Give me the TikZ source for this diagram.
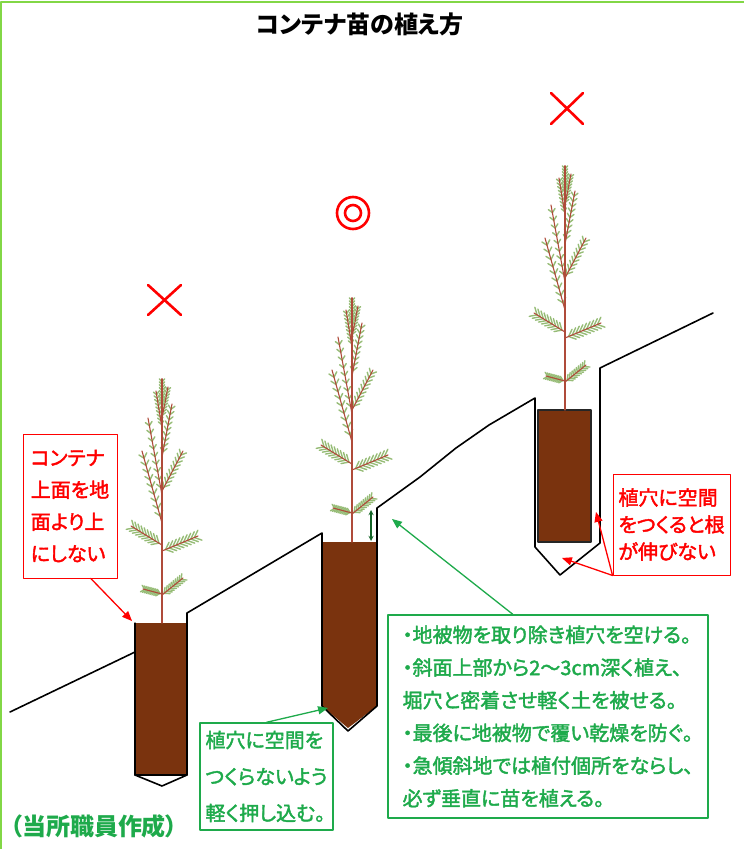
\documentclass[tikz,border=0pt]{standalone}
\usepackage{fontspec}
\setmainfont{Noto Sans CJK JP}[RawFeature=+palt]
\newfontfamily\notefont{Noto Sans CJK JP}[RawFeature=+palt,FakeBold=2]
\usetikzlibrary{arrows}
\usetikzlibrary{calc}

\definecolor{soil}{RGB}{122,51,14}
\definecolor{framegreen}{RGB}{130,215,70}
\definecolor{notegreen}{RGB}{30,170,75}
\definecolor{gapgreen}{RGB}{20,100,40}
\definecolor{twigred}{RGB}{175,75,58}
\definecolor{needlegreen}{RGB}{150,188,118}

\tikzset{
  groundline/.style={line width=1.6pt,black},
  verdict/.style={red,line width=2.6pt},
  warnbox/.style={draw=red,line width=0.9pt,text=red,align=left,inner sep=4pt},
  notebox/.style={draw=notegreen,line width=1.4pt,text=notegreen,align=left,inner sep=4pt},
  needle/.style={needlegreen,line width=1.4pt},
  twig/.style={twigred,line width=1.1pt},
  % one seedling, origin at the foot of the stem
  seedling/.pic={
    \foreach \ax/\ay/\bx/\by/\nl in {0/-29/-19/-34/5,0/-28/21/-45/6,0/-78/-31/-97/8,0/-72/36/-87/8,
        0/-100/-20/-172/6,0/-132/21/-172/6,0/-128/-14/-205/5,0/-166/10/-219/5,
        0/-195/-6/-232/4,0/-205/6/-236/4,0/-215/0/-244/4}{
      \foreach \i in {1,...,9}{
        \coordinate (p) at ($(\ax,\ay)!\i*0.1!(\bx,\by)$);
        \draw[needle] (p) -- ($(p)!\nl pt!42:(\bx,\by)$);
        \draw[needle] (p) -- ($(p)!\nl pt!-42:(\bx,\by)$);
      }
      \draw[twig] (\ax,\ay) -- (\bx,\by);
    }
    \draw[twig] (0,0) -- (0,-244);
  }
}

\begin{document}
\begin{tikzpicture}[line cap=round,line join=round,>=triangle 45,x=1pt,y=-1pt]
\useasboundingbox (0,0) rectangle (744,849);
\draw [framegreen,line width=2pt] (1,860) -- (1,2) -- (760,2);

\node[font=\fontsize{24}{24}\selectfont\bfseries] (title) at (360,24) {コンテナ苗の植え方};

% containers
\fill [soil] (135,623) rectangle (187,775);
\draw [line width=1.2pt] (135,623) -- (135,775) -- (187,775);
\fill [soil] (322,542) -- (377,542) -- (377,706) -- (348,728) -- (322,706) -- cycle;
\filldraw [fill=soil,draw=black!85,line width=1.2pt] (538,410) rectangle (591,542);

% slope with the three planting holes
\draw [groundline] (10,712) -- (135,652) -- (135,775) -- (162,786) -- (187,775) -- (187,613)
  -- (322,533) -- (322,706) -- (348,731) -- (377,706) -- (377,508)
  -- (420,477) -- (456,448) -- (489,425) -- (535,398)
  -- (535,547) -- (560,575) -- (600,543) -- (600,368) -- (713,313);

% seedlings
\pic at (162,623) {seedling};
\pic at (352,542) {seedling};
\pic at (565,410) {seedling};

% good / bad marks
\draw [verdict] (148,285) -- (181,315) (181,285) -- (148,315);
\draw [verdict] (551,93) -- (583,124) (583,93) -- (551,124);
\draw [verdict] (353,213) circle (16) (353,213) circle (8);

% planting depth
\coordinate (gaptop) at (371,510);
\coordinate (gapbot) at (371,541);
\draw [gapgreen,line width=1.3pt,<->,>=stealth] (gaptop) -- (gapbot);

% notes
\node[warnbox,minimum width=94pt,minimum height=144pt,font=\notefont\fontsize{20}{32}\selectfont] (warn1) at (70,506) {コンテナ\\上面を地\\面より上\\にしない};
\node[warnbox,minimum width=117pt,minimum height=101pt,font=\notefont\fontsize{20}{27}\selectfont] (warn2) at (671.5,524.5) {植穴に空間\\をつくると根\\が伸びない};
\node[notebox,minimum width=133pt,minimum height=107pt,font=\notefont\fontsize{20}{36.5}\selectfont] (press) at (266.5,776.5) {植穴に空間を\\つくらないよう\\軽く押し込む。};
\node[notebox,minimum width=320pt,minimum height=203pt,font=\notefont\fontsize{20}{32.7}\selectfont] (steps) at (548,716.5) {・地被物を取り除き植穴を空ける。\\・斜面上部から2～3cm深く植え、\\堀穴と密着させ軽く土を被せる。\\・最後に地被物で覆い乾燥を防ぐ。\\・急傾斜地では植付個所をならし、\\必ず垂直に苗を植える。};
\node[text=notegreen,font=\fontsize{24}{24}\selectfont\bfseries] (credit) at (94,826) {（当所職員作成）};

% pointers
\coordinate (pot1) at (132,621);
\coordinate (wall3) at (596,512);
\coordinate (floor3) at (562,558);
\coordinate (tip2) at (328,708);
\coordinate (hole2) at (392,519);
\draw [red,line width=1.3pt,->] (warn1.-74) -- (pot1);
\draw [red,line width=1.3pt,->] (warn2.south west) -- (wall3);
\draw [red,line width=1.3pt,->] (warn2.south west) -- (floor3);
\draw [notegreen,line width=1.3pt,->] (press.north) -- (tip2);
\draw [notegreen,line width=1.3pt,->] (steps.109) -- (hole2);
\end{tikzpicture}
\end{document}
